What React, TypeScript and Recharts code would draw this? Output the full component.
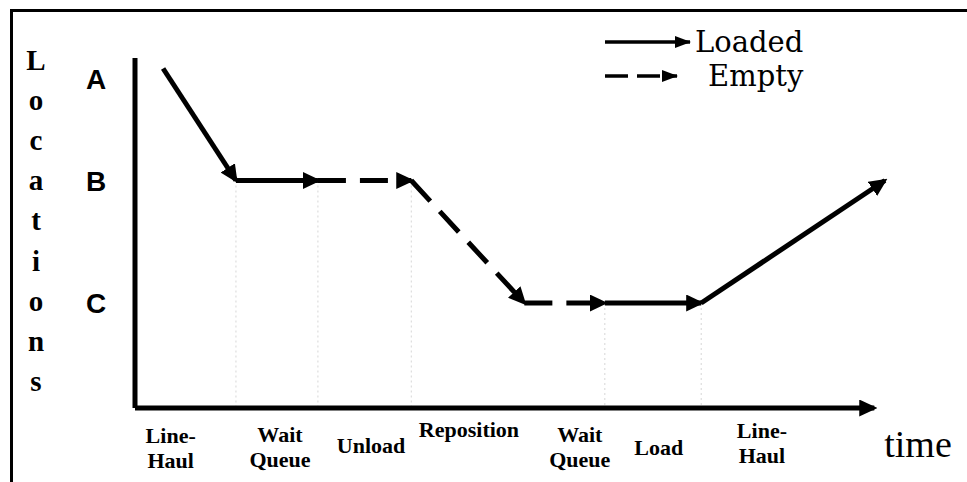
import React from "react";
import { ComposedChart, Line, XAxis, YAxis, ReferenceLine, Legend } from "recharts";

// ---- data ----
const locationNames = ["C", "B", "A"];
const locationLevels = [30, 65, 94];

const phaseLabels = [
  ["Line-", "Haul"],
  ["Wait", "Queue"],
  ["Unload"],
  ["Reposition"],
  ["Wait", "Queue"],
  ["Load"],
  ["Line-", "Haul"],
];
const phaseCenters = [4.7, 19.1, 31.1, 44.0, 58.6, 69.0, 82.6];

const pathTimes = [3.7, 13.3, 24.1, 36.4, 51.3, 61.9, 74.6, 98.8];
const pathLocations = [97, 65, 65, 65, 30, 30, 30, 65];
const segmentStatus = ["Loaded", "Loaded", "Empty", "Empty", "Empty", "Loaded", "Loaded"];
const guideIndices = [1, 2, 3, 5, 6];

const axisEnd = 97.4;
const timeLabel = "time";
const yLabel = "Locations";
const legendItems = [
  { name: "Loaded", dashed: false },
  { name: "Empty", dashed: true },
];

// ---- derived ----
const segments = segmentStatus.map((status, i) => ({
  status,
  data: [
    { t: pathTimes[i], loc: pathLocations[i] },
    { t: pathTimes[i + 1], loc: pathLocations[i + 1] },
  ],
}));
const axisData = [
  { t: 0, loc: 0 },
  { t: axisEnd, loc: 0 },
];

// ---- layout / style ----
const W = 967;
const H = 482;
const serif = "'Liberation Serif', 'Times New Roman', serif";
const wideSerif = "'DejaVu Serif', 'Liberation Serif', serif";
const sans = "'Liberation Sans', Arial, sans-serif";
const labelOffsets = [35, 34, 45, 29, 34, 47, 30];

const PhaseTick = (props: any) => {
  const { x, y, payload } = props;
  const i = phaseCenters.indexOf(payload.value);
  if (i < 0) return null;
  const lines = phaseLabels[i];
  return (
    <g>
      {lines.map((l, k) => (
        <text
          key={k}
          x={x}
          y={y + labelOffsets[i] + k * 25}
          textAnchor="middle"
          fontFamily={serif}
          fontWeight="bold"
          fontSize={22}
          fill="#000"
        >
          {l}
        </text>
      ))}
    </g>
  );
};

const LocationTick = (props: any) => {
  const { x, y, payload } = props;
  const i = locationLevels.indexOf(payload.value);
  return (
    <text
      x={x - 39}
      y={y + 10}
      textAnchor="middle"
      fontFamily={sans}
      fontWeight="bold"
      fontSize={28}
      fill="#000"
    >
      {locationNames[i]}
    </text>
  );
};

const YLetters = () => (
  <g>
    {yLabel.split("").map((ch, i) => (
      <text
        key={i}
        x={36}
        y={70 + i * 40.1}
        textAnchor="middle"
        fontFamily={serif}
        fontWeight="bold"
        fontSize={29}
        fill="#000"
      >
        {ch}
      </text>
    ))}
  </g>
);

const TimeLabel = () => (
  <text x={918} y={457} textAnchor="middle" fontFamily={serif} fontSize={38} fill="#000">
    {timeLabel}
  </text>
);

const legendGeom = [
  { y: 32, x2: 90, tx: 95, ty: 42 },
  { y: 66, x2: 77, tx: 108, ty: 76 },
];

const renderLegend = () => (
  <svg width={240} height={92} style={{ display: "block" }}>
    {legendItems.map((it, i) => {
      const g = legendGeom[i];
      return (
        <g key={it.name}>
          <line
            x1={5}
            x2={g.x2}
            y1={g.y}
            y2={g.y}
            stroke="#000"
            strokeWidth={3.5}
            strokeDasharray={it.dashed ? "23 9" : undefined}
            markerEnd="url(#arrowSmall)"
          />
          <text x={g.tx} y={g.ty} fontFamily={wideSerif} fontSize={29} fill="#000">
            {it.name}
          </text>
        </g>
      );
    })}
  </svg>
);

export default function App() {
  return (
    <div style={{ position: "absolute", left: 0, top: 0, width: W, height: H, overflow: "hidden", background: "#fff" }}>
      <svg width={0} height={0} style={{ position: "absolute" }}>
        <defs>
          <marker
            id="arrowHead"
            markerWidth={18}
            markerHeight={17}
            refX={15}
            refY={8.5}
            orient="auto"
            markerUnits="userSpaceOnUse"
          >
            <path d="M0,0 L18,8.5 L0,17 Z" fill="#000" />
          </marker>
          <marker
            id="arrowSmall"
            markerWidth={16}
            markerHeight={12}
            refX={15}
            refY={6}
            orient="auto"
            markerUnits="userSpaceOnUse"
          >
            <path d="M0,0 L16,6 L0,12 Z" fill="#000" />
          </marker>
        </defs>
      </svg>
      <div
        style={{
          position: "absolute",
          left: 9.5,
          top: 9,
          width: W - 9.5,
          height: H - 9,
          borderTop: "3.5px solid #000",
          borderLeft: "3.5px solid #000",
          boxSizing: "border-box",
        }}
      />
      <div style={{ position: "absolute", left: 0, top: 0 }}>
        <ComposedChart width={W} height={H} margin={{ top: 58, right: 73, bottom: 0, left: 0 }}>
          <XAxis
            dataKey="t"
            type="number"
            domain={[0, 100]}
            ticks={phaseCenters}
            axisLine={false}
            tickLine={false}
            tickSize={0}
            tickMargin={0}
            height={74}
            interval={0}
            tick={<PhaseTick />}
            label={{ value: timeLabel, content: <TimeLabel /> }}
          />
          <YAxis
            type="number"
            domain={[0, 100]}
            ticks={locationLevels}
            width={135}
            axisLine={{ stroke: "#000", strokeWidth: 5 }}
            tickLine={false}
            tickSize={0}
            tickMargin={0}
            interval={0}
            tick={<LocationTick />}
            label={{ value: yLabel, content: <YLetters /> }}
          />
          {guideIndices.map((gi) => (
            <ReferenceLine
              key={gi}
              segment={[
                { x: pathTimes[gi], y: pathLocations[gi] },
                { x: pathTimes[gi], y: 0 },
              ]}
              stroke="#d6d6d6"
              strokeWidth={1}
              strokeDasharray="2 3"
              ifOverflow="visible"
            />
          ))}
          <Line
            data={axisData}
            dataKey="loc"
            type="linear"
            stroke="#000"
            strokeWidth={5}
            dot={false}
            activeDot={false}
            isAnimationActive={false}
            legendType="none"
            markerEnd="url(#arrowHead)"
          />
          {segments.map((s, i) => (
            <Line
              key={i}
              data={s.data}
              dataKey="loc"
              name={s.status}
              type="linear"
              stroke="#000"
              strokeWidth={5}
              strokeDasharray={s.status === "Empty" ? "28 14" : undefined}
              dot={false}
              activeDot={false}
              isAnimationActive={false}
              legendType="none"
              markerEnd="url(#arrowHead)"
            />
          ))}
          <Legend
            layout="vertical"
            align="center"
            verticalAlign="middle"
            content={renderLegend}
            wrapperStyle={{ left: 600, top: 10, width: 240, height: 92 }}
          />
        </ComposedChart>
      </div>
    </div>
  );
}
